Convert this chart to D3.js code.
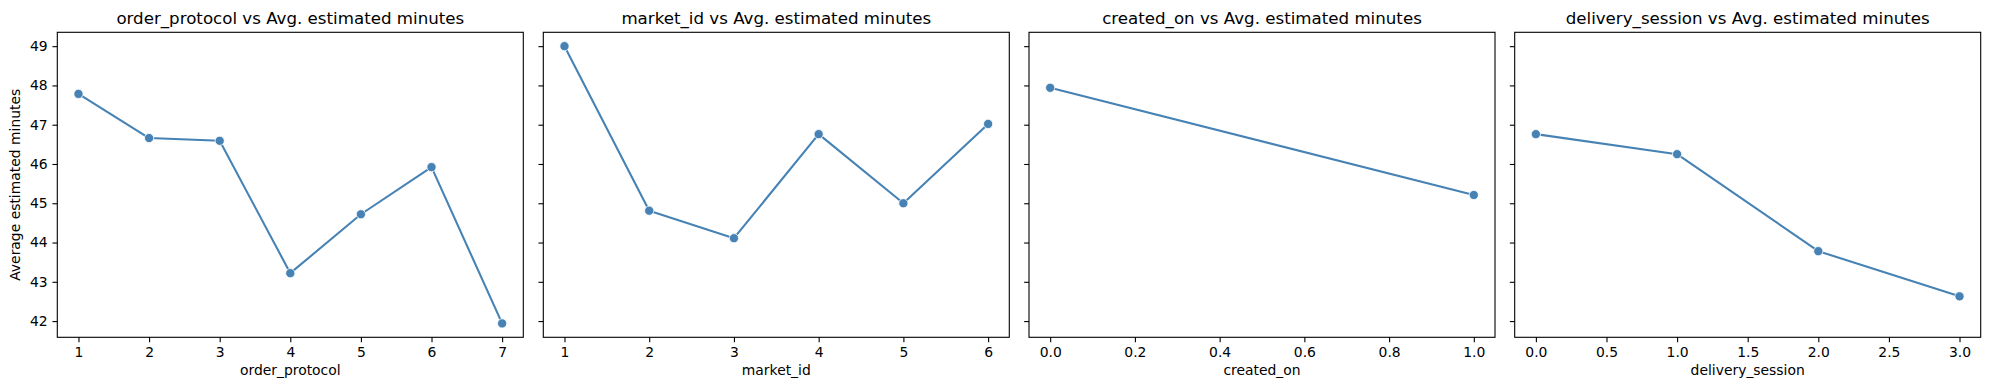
<!DOCTYPE html>
<html>
<head>
<meta charset="utf-8">
<script src="https://cdn.jsdelivr.net/npm/d3@7"></script>
<style>
  html, body { margin: 0; padding: 0; background: #fff; }
  svg { display: block; }
  text { font-family: "DejaVu Sans", sans-serif; fill: #000; }
</style>
</head>
<body>
<svg id="chart" width="1990" height="390"></svg>
<script>
// ---- data ----
const orderProtocolX = [1, 2, 3, 4, 5, 6, 7];
const orderProtocolY = [47.785, 46.66, 46.59, 43.22, 44.72, 45.92, 41.94];

const marketIdX = [1, 2, 3, 4, 5, 6];
const marketIdY = [49.0, 44.81, 44.11, 46.76, 45.00, 47.02];

const createdOnX = [0, 1];
const createdOnY = [47.94, 45.21];

const deliverySessionX = [0, 1, 2, 3];
const deliverySessionY = [46.76, 46.25, 43.78, 42.63];

const yTicks = [42, 43, 44, 45, 46, 47, 48, 49];
const orderProtocolTicks = [1, 2, 3, 4, 5, 6, 7];
const marketIdTicks = [1, 2, 3, 4, 5, 6];
const createdOnTicks = [0, 0.2, 0.4, 0.6, 0.8, 1.0];
const deliverySessionTicks = [0, 0.5, 1, 1.5, 2, 2.5, 3];

const panels = [
  { name: "order_protocol", xs: orderProtocolX, ys: orderProtocolY, ticks: orderProtocolTicks, fmt: d3.format("d") },
  { name: "market_id", xs: marketIdX, ys: marketIdY, ticks: marketIdTicks, fmt: d3.format("d") },
  { name: "created_on", xs: createdOnX, ys: createdOnY, ticks: createdOnTicks, fmt: d3.format(".1f") },
  { name: "delivery_session", xs: deliverySessionX, ys: deliverySessionY, ticks: deliverySessionTicks, fmt: d3.format(".1f") }
];

// ---- layout ----
const axLefts = [57.3, 543.3, 1029, 1514.7];
const axWidth = 466;
const axTop = 32.3, axBottom = 337.3;
const color = "#4682b4";
const tickLen = 4.86, tickPad = 4.86;

const svg = d3.select("#chart");

// shared y domain with 5% margins (matplotlib-style)
const allY = panels.flatMap(p => p.ys);
const [yMin, yMax] = d3.extent(allY);
const yPad = (yMax - yMin) * 0.05;
const y = d3.scaleLinear().domain([yMin - yPad, yMax + yPad]).range([axBottom, axTop]);

panels.forEach((p, i) => {
  const left = axLefts[i], right = left + axWidth;
  const [xMin, xMax] = d3.extent(p.xs);
  const xPad = (xMax - xMin) * 0.05;
  const x = d3.scaleLinear().domain([xMin - xPad, xMax + xPad]).range([left, right]);

  const g = svg.append("g");

  // x axis
  const xAxis = d3.axisBottom(x).tickValues(p.ticks).tickFormat(p.fmt)
    .tickSizeInner(tickLen).tickSizeOuter(0).tickPadding(tickPad);
  const gx = g.append("g").attr("transform", `translate(0,${axBottom})`).call(xAxis);
  gx.select(".domain").remove();
  gx.selectAll("line").attr("stroke", "#000").attr("stroke-width", 1.1);
  gx.selectAll("text").attr("font-size", "13.9px").attr("font-family", "DejaVu Sans").attr("fill", "#000");

  // y axis
  const yAxis = d3.axisLeft(y).tickValues(yTicks).tickFormat(i === 0 ? d3.format("d") : () => "")
    .tickSizeInner(tickLen).tickSizeOuter(0).tickPadding(tickPad);
  const gy = g.append("g").attr("transform", `translate(${left},0)`).call(yAxis);
  gy.select(".domain").remove();
  gy.selectAll("line").attr("stroke", "#000").attr("stroke-width", 1.1);
  gy.selectAll("text").attr("font-size", "13.9px").attr("font-family", "DejaVu Sans").attr("fill", "#000");

  // line
  const pts = p.xs.map((xv, k) => [xv, p.ys[k]]);
  g.append("path")
    .datum(pts)
    .attr("fill", "none")
    .attr("stroke", color)
    .attr("stroke-width", 2.08)
    .attr("stroke-linejoin", "round")
    .attr("stroke-linecap", "round")
    .attr("d", d3.line().x(d => x(d[0])).y(d => y(d[1])));

  // markers
  g.selectAll("circle.pt").data(pts).enter().append("circle")
    .attr("class", "pt")
    .attr("cx", d => x(d[0]))
    .attr("cy", d => y(d[1]))
    .attr("r", 4.6)
    .attr("fill", color)
    .attr("stroke", "#fff")
    .attr("stroke-width", 0.8);

  // frame
  g.append("rect")
    .attr("x", left).attr("y", axTop)
    .attr("width", axWidth).attr("height", axBottom - axTop)
    .attr("fill", "none").attr("stroke", "#000").attr("stroke-width", 1.1);

  // title
  g.append("text")
    .attr("x", (left + right) / 2).attr("y", 24)
    .attr("text-anchor", "middle")
    .attr("font-size", "16.67px")
    .text(`${p.name} vs Avg. estimated minutes`);

  // x label
  g.append("text")
    .attr("x", (left + right) / 2).attr("y", 375)
    .attr("text-anchor", "middle")
    .attr("font-size", "13.9px")
    .text(p.name);
});

// y label
svg.append("text")
  .attr("transform", `translate(20,${(axTop + axBottom) / 2}) rotate(-90)`)
  .attr("text-anchor", "middle")
  .attr("font-size", "13.9px")
  .text("Average estimated minutes");
</script>
</body>
</html>
